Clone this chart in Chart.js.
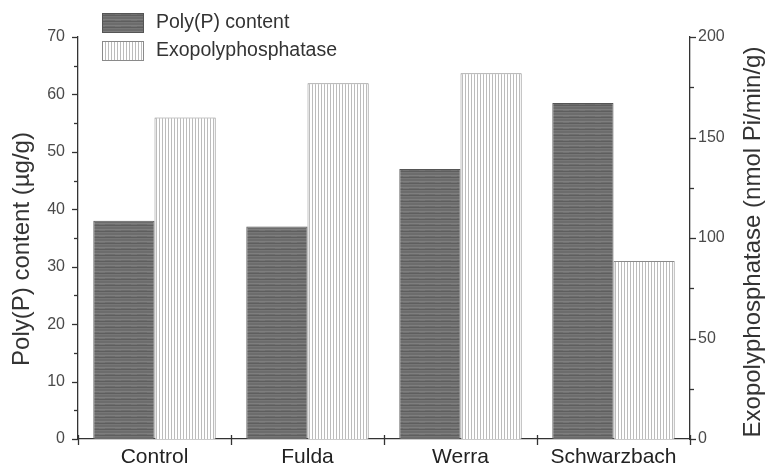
<!DOCTYPE html>
<html>
<head>
<meta charset="utf-8">
<style>
  html, body { margin: 0; padding: 0; background: #fff; }
  #wrap { width: 769px; height: 470px; position: relative; }
</style>
<script src="https://cdn.jsdelivr.net/npm/chart.js@4.4.1/dist/chart.umd.min.js"></script>
</head>
<body>
<div id="wrap"><canvas id="c" width="769" height="470"></canvas></div>
<script>
// Sampling sites
const categories = ['Control', 'Fulda', 'Werra', 'Schwarzbach'];
// Poly(P) content, µg/g (left axis)
const polyPContent = [38, 37, 47, 58.5];
// Exopolyphosphatase activity, nmol Pi/min/g (right axis)
const exopolyphosphatase = [160, 177, 182, 88.5];
// Axis ranges and tick steps
const leftRange = [0, 70];
const leftMajorStep = 10;
const leftMinorStep = 5;
const rightRange = [0, 200];
const rightMajorStep = 50;
const rightMinorStep = 25;

const FONT = "'Liberation Sans', Arial, Helvetica, sans-serif";
const AXIS_COLOR = '#333';

// Dark grey fill with fine horizontal streaks
function darkFill() {
  const c = document.createElement('canvas');
  c.width = 16; c.height = 6;
  const g = c.getContext('2d');
  g.fillStyle = '#6c6c6c'; g.fillRect(0, 0, 16, 6);
  g.fillStyle = '#7e7e7e'; g.fillRect(0, 1, 16, 1);
  g.fillStyle = '#5e5e5e'; g.fillRect(0, 3, 16, 1);
  g.fillStyle = '#767676'; g.fillRect(0, 4, 16, 1);
  g.fillStyle = '#737373'; g.fillRect(3, 2, 6, 1);
  return g.createPattern(c, 'repeat');
}
// White fill with thin vertical lines
function stripeFill() {
  const c = document.createElement('canvas');
  c.width = 3; c.height = 4;
  const g = c.getContext('2d');
  g.fillStyle = '#fff'; g.fillRect(0, 0, 3, 4);
  g.fillStyle = '#bcbcbc'; g.fillRect(0, 0, 1, 4);
  return g.createPattern(c, 'repeat');
}

const darkPattern = darkFill();
const stripePattern = stripeFill();

function seg(ctx, x1, y1, x2, y2) {
  ctx.beginPath(); ctx.moveTo(x1, y1); ctx.lineTo(x2, y2); ctx.stroke();
}

// Outward tick marks (major and minor) on all three axes
const axisTicks = {
  id: 'axisTicks',
  afterDraw(chart) {
    const { ctx, chartArea: a, scales } = chart;
    ctx.save();
    ctx.strokeStyle = AXIS_COLOR;
    ctx.lineWidth = 1.3;
    for (let v = leftRange[0]; v <= leftRange[1]; v += leftMinorStep) {
      const p = Math.round(scales.y.getPixelForValue(v)) + 0.5;
      seg(ctx, a.left - (v % leftMajorStep === 0 ? 6 : 4), p, a.left, p);
    }
    for (let v = rightRange[0]; v <= rightRange[1]; v += rightMinorStep) {
      const p = Math.round(scales.y1.getPixelForValue(v)) + 0.5;
      seg(ctx, a.right, p, a.right + (v % rightMajorStep === 0 ? 6 : 4), p);
    }
    const x = scales.x;
    const n = categories.length;
    for (let i = 0; i <= n; i++) {
      let px;
      if (i === 0) px = a.left;
      else if (i === n) px = a.right;
      else px = (x.getPixelForValue(i - 1) + x.getPixelForValue(i)) / 2;
      px = Math.round(px) + 0.5;
      seg(ctx, px, a.bottom - 4, px, a.bottom + 6);
    }
    ctx.restore();
  }
};

// Vertical axis titles, both reading bottom to top
const axisTitles = {
  id: 'axisTitles',
  afterDraw(chart) {
    const { ctx } = chart;
    const draw = (text, x, y) => {
      ctx.save();
      ctx.fillStyle = '#333';
      ctx.font = '24px ' + FONT;
      ctx.textAlign = 'center';
      ctx.textBaseline = 'middle';
      ctx.translate(x, y);
      ctx.rotate(-Math.PI / 2);
      ctx.fillText(text, 0, 0);
      ctx.restore();
    };
    draw('Poly(P) content (\u00b5g/g)', 22, 249);
    draw('Exopolyphosphatase (nmol Pi/min/g)', 753, 242);
  }
};

// Legend in the upper-left corner of the plot
const boxLegend = {
  id: 'boxLegend',
  afterDraw(chart) {
    const { ctx } = chart;
    const rows = [13, 41];
    ctx.save();
    chart.data.datasets.forEach((ds, i) => {
      const y = rows[i];
      ctx.fillStyle = ds.backgroundColor;
      ctx.fillRect(102, y, 42, 20);
      ctx.strokeStyle = ds.borderColor;
      ctx.lineWidth = 1;
      ctx.strokeRect(102.5, y + 0.5, 41, 19);
      ctx.fillStyle = '#333';
      ctx.font = '19.5px ' + FONT;
      ctx.textAlign = 'left';
      ctx.textBaseline = 'middle';
      ctx.fillText(ds.label, 156, y + 10);
    });
    ctx.restore();
  }
};

new Chart(document.getElementById('c'), {
  type: 'bar',
  data: {
    labels: categories,
    datasets: [
      {
        label: 'Poly(P) content',
        data: polyPContent,
        yAxisID: 'y',
        backgroundColor: darkPattern,
        borderColor: '#555',
        borderWidth: 1,
        categoryPercentage: 0.8,
        barPercentage: 1.0
      },
      {
        label: 'Exopolyphosphatase',
        data: exopolyphosphatase,
        yAxisID: 'y1',
        backgroundColor: stripePattern,
        borderColor: '#8a8a8a',
        borderWidth: 1,
        categoryPercentage: 0.8,
        barPercentage: 1.0
      }
    ]
  },
  options: {
    responsive: false,
    animation: false,
    layout: { padding: { top: 37, left: 0, right: 0, bottom: 0 } },
    plugins: {
      legend: { display: false },
      tooltip: { enabled: false }
    },
    scales: {
      x: {
        afterFit: s => { s.height = 31; },
        grid: { display: false, drawTicks: false },
        border: { display: true, color: AXIS_COLOR, width: 1.3 },
        ticks: {
          color: '#222',
          font: { family: FONT, size: 21 },
          padding: 6,
          maxRotation: 0,
          autoSkip: false
        }
      },
      y: {
        position: 'left',
        min: leftRange[0],
        max: leftRange[1],
        afterFit: s => { s.width = 78; },
        grid: { display: false, drawTicks: false },
        border: { display: true, color: AXIS_COLOR, width: 1.3 },
        ticks: {
          stepSize: leftMajorStep,
          color: '#4a4a4a',
          font: { family: FONT, size: 16 },
          padding: 13
        }
      },
      y1: {
        position: 'right',
        min: rightRange[0],
        max: rightRange[1],
        afterFit: s => { s.width = 79; },
        grid: { display: false, drawTicks: false },
        border: { display: true, color: AXIS_COLOR, width: 1.3 },
        ticks: {
          stepSize: rightMajorStep,
          color: '#4a4a4a',
          font: { family: FONT, size: 16 },
          padding: 8
        }
      }
    }
  },
  plugins: [axisTicks, axisTitles, boxLegend]
});
</script>
</body>
</html>
